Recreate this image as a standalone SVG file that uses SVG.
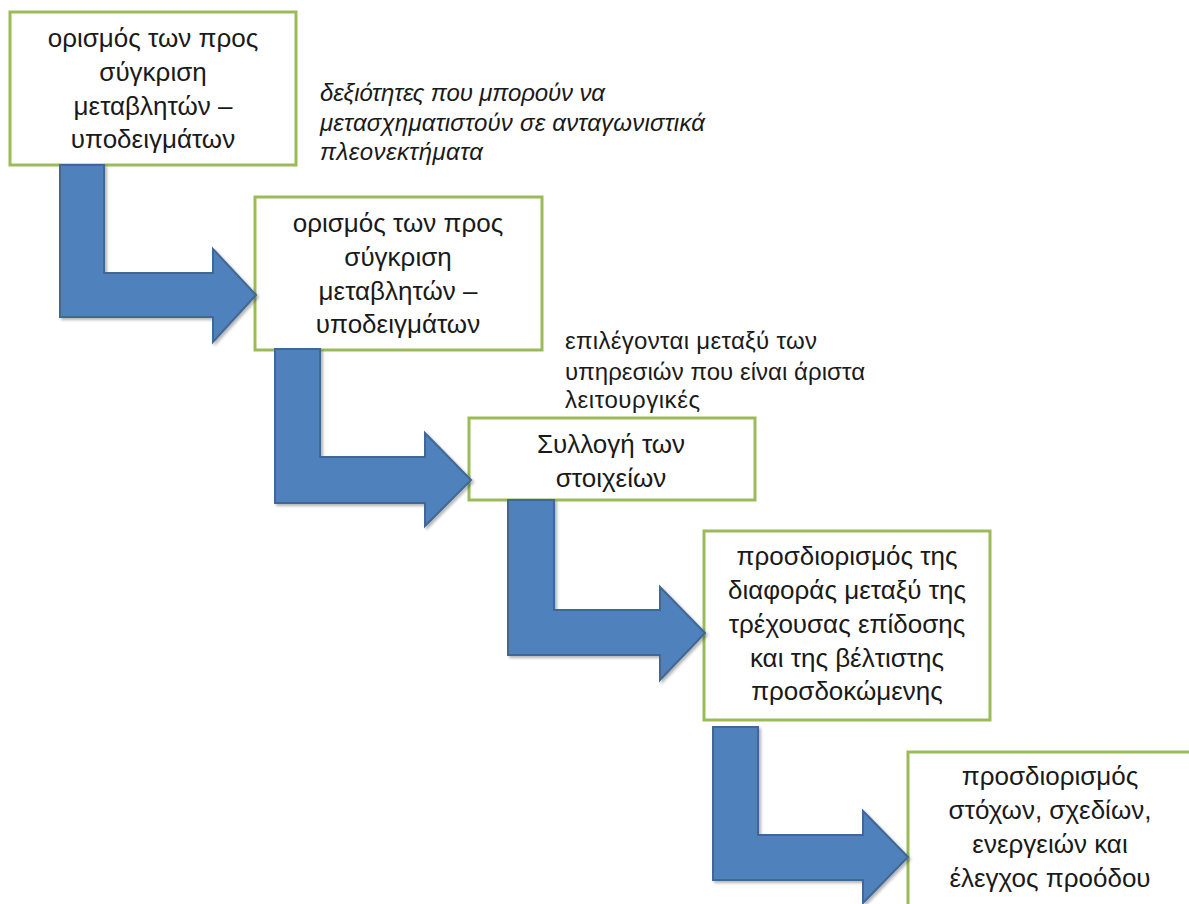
<svg xmlns="http://www.w3.org/2000/svg" width="1189" height="904" viewBox="0 0 1189 904">
<style>
.box{fill:#ffffff;stroke:#9BBB59;stroke-width:3}
.arrow{fill:#4F81BD;stroke:#3F6796;stroke-width:2;stroke-linejoin:miter}
.t{font-family:"Liberation Sans",Arial,sans-serif;font-size:26px;fill:#1a1a1a;text-anchor:middle}
.note{font-family:"Liberation Sans",Arial,sans-serif;font-size:24px;fill:#1a1a1a}
.it{font-style:italic}
</style>
<defs>
<filter id="sh" x="-10%" y="-10%" width="130%" height="130%">
<feGaussianBlur in="SourceAlpha" stdDeviation="1.5"/>
<feOffset dx="2" dy="2" result="b"/>
<feComponentTransfer><feFuncA type="linear" slope="0.3"/></feComponentTransfer>
<feMerge><feMergeNode/><feMergeNode in="SourceGraphic"/></feMerge>
</filter>
</defs>
<rect width="1189" height="904" fill="#ffffff"/>
<g id="node1">
<rect class="box" x="10" y="12" width="286" height="153"/>
<text class="t" x="153" y="47">ορισμός των προς</text>
<text class="t" x="153" y="81">σύγκριση</text>
<text class="t" x="153" y="115">μεταβλητών –</text>
<text class="t" x="153" y="148">υποδειγμάτων</text>
</g>
<g id="node2">
<rect class="box" x="255" y="197" width="287" height="153"/>
<text class="t" x="398" y="232">ορισμός των προς</text>
<text class="t" x="398" y="266">σύγκριση</text>
<text class="t" x="398" y="300">μεταβλητών –</text>
<text class="t" x="398" y="333">υποδειγμάτων</text>
</g>
<g id="node3">
<rect class="box" x="469" y="418" width="286" height="82"/>
<text class="t" x="611" y="453">Συλλογή των</text>
<text class="t" x="611" y="487">στοιχείων</text>
</g>
<g id="node4">
<rect class="box" x="704" y="531" width="286" height="189"/>
<text class="t" x="847" y="565">προσδιορισμός της</text>
<text class="t" x="847" y="599">διαφοράς μεταξύ της</text>
<text class="t" x="847" y="633">τρέχουσας επίδοσης</text>
<text class="t" x="847" y="667">και της βέλτιστης</text>
<text class="t" x="847" y="700">προσδοκώμενης</text>
</g>
<g id="node5">
<rect class="box" x="908" y="752" width="290" height="170"/>
<text class="t" x="1050" y="785">προσδιορισμός</text>
<text class="t" x="1050" y="819">στόχων, σχεδίων,</text>
<text class="t" x="1050" y="853">ενεργειών και</text>
<text class="t" x="1050" y="887">έλεγχος προόδου</text>
</g>
<g id="note1">
<text class="note it" x="320" y="101" textLength="285">δεξιότητες που μπορούν να</text>
<text class="note it" x="320" y="131" textLength="385">μετασχηματιστούν σε ανταγωνιστικά</text>
<text class="note it" x="320" y="160" textLength="163">πλεονεκτήματα</text>
</g>
<g id="note2">
<text class="note" x="565" y="349" textLength="252">επιλέγονται μεταξύ των</text>
<text class="note" x="565" y="380" textLength="300">υπηρεσιών που είναι άριστα</text>
<text class="note" x="565" y="408" textLength="135">λειτουργικές</text>
</g>
<g id="connectors" filter="url(#sh)">
<path class="arrow" d="M60,165 L104,165 L104,273 L213,273 L213,249 L256,295 L213,342 L213,317 L60,317 Z"/>
<path class="arrow" d="M275,349 L320,349 L320,457 L425,457 L425,433 L471,480 L425,526 L425,503 L275,503 Z"/>
<path class="arrow" d="M508,500 L554,500 L554,610 L660,610 L660,587 L705,633 L660,680 L660,655 L508,655 Z"/>
<path class="arrow" d="M713,727 L758,727 L758,835 L863,835 L863,811 L908,857 L863,903 L863,880 L713,880 Z"/>
</g>
</svg>
